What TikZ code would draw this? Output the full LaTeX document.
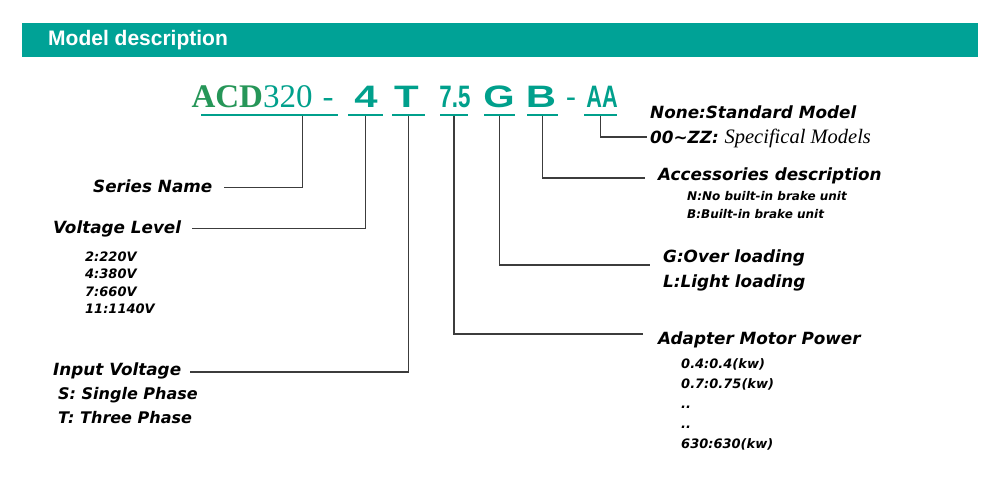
\documentclass[tikz,border=0pt]{standalone}
\usepackage{fontspec}
\setmainfont{Liberation Sans}
\newfontfamily\lblfont{DejaVu Sans}
\newfontfamily\serffont{Liberation Serif}
\usetikzlibrary{calc}

\definecolor{barteal}{RGB}{0,162,150}
\definecolor{codeteal}{RGB}{0,160,140}
\definecolor{acdgreen}{RGB}{38,150,88}
\definecolor{leadgray}{RGB}{60,60,60}

\tikzset{
  code/.style={anchor=base,inner sep=0pt,text=codeteal,font=\bfseries\fontsize{31}{31}\selectfont},
  uline/.style={fill=codeteal,draw=none,inner sep=0pt,minimum height=2pt},
  head/.style={anchor=base west,inner sep=0pt,text height=12pt,text depth=3pt,
    font=\lblfont\bfseries\itshape\fontsize{16.8}{16.8}\selectfont},
  sub/.style={anchor=base west,inner sep=0pt,font=\lblfont\bfseries\itshape\fontsize{13}{13}\selectfont},
  tiny/.style={anchor=base west,inner sep=0pt,font=\lblfont\bfseries\itshape\fontsize{12}{12}\selectfont},
  lead/.style={draw=leadgray,line width=1.3pt},
}

\begin{document}
\begin{tikzpicture}[x=1pt,y=-1pt]
\fill[white] (0,0) rectangle (1000,498);
\useasboundingbox (0,0) rectangle (1000,498);

% header bar
\fill[barteal] (22,23) rectangle (978,57);
\node[anchor=west,inner sep=0pt,text=white,font=\bfseries\fontsize{21}{21}\selectfont] (title) at (48,40) {Model description};

% model code
\node[code,font=\serffont\fontsize{33}{33}\selectfont] (acd) at (252,107) {{\bfseries\color{acdgreen}ACD}320};
\node[code,font=\serffont\fontsize{33}{33}\selectfont] (dasha) at (328,107) {-};
\node[code,xscale=1.35] (volt4) at (366,107) {4};
\node[code,xscale=1.3] (phaseT) at (406.5,107) {T};
\node[code,xscale=0.72] (pow75) at (455,107) {7.5};
\node[code,xscale=1.3] (loadG) at (499,107) {G};
\node[code,xscale=1.35] (brkB) at (541,107) {B};
\node[code,font=\fontsize{31}{31}\selectfont] (dashb) at (571,107) {-};
\node[code,xscale=0.7] (specAA) at (602,107) {AA};

% underlines
\node[uline,minimum width=137pt] (uacd) at (269.5,114.5) {};
\node[uline,minimum width=35pt] (u4) at (365.5,114.5) {};
\node[uline,minimum width=33pt] (uT) at (408.5,114.5) {};
\node[uline,minimum width=28pt] (u75) at (454,114.5) {};
\node[uline,minimum width=31pt] (uG) at (499.5,114.5) {};
\node[uline,minimum width=31pt] (uB) at (542.5,114.5) {};
\node[uline,minimum width=33pt] (uAA) at (600.5,114.5) {};

% left side
\node[head] (series) at (93,192) {Series Name};
\node[head] (volt) at (53,233) {Voltage Level};
\node[sub] (v2) at (85,261) {2:220V};
\node[sub] (v4) at (85,278) {4:380V};
\node[sub] (v7) at (85,296) {7:660V};
\node[sub] (v11) at (85,313) {11:1140V};
\node[head] (input) at (53,375) {Input Voltage};
\node[head,font=\lblfont\bfseries\itshape\fontsize{16}{16}\selectfont] (single) at (58,399) {S: Single Phase};
\node[head,font=\lblfont\bfseries\itshape\fontsize{16}{16}\selectfont] (three) at (58,423) {T: Three Phase};

% right side
\node[head] (none) at (650,118) {None:Standard Model};
\node[head] (spec) at (650,143) {00\textasciitilde ZZ: {\serffont\mdseries\fontsize{20.5}{20.5}\selectfont Specifical Models}};
\node[head] (acc) at (658,180) {Accessories description};
\node[tiny] (nbrk) at (687,200) {N:No built-in brake unit};
\node[tiny] (bbrk) at (687,218) {B:Built-in brake unit};
\node[head] (over) at (663,262) {G:Over loading};
\node[head] (light) at (663,287) {L:Light loading};
\node[head] (power) at (658,344) {Adapter Motor Power};
\node[sub] (p1) at (681,368) {0.4:0.4(kw)};
\node[sub] (p2) at (681,388) {0.7:0.75(kw)};
\node[sub] (p3) at (681,408) {..};
\node[sub] (p4) at (681,428) {..};
\node[sub] (p5) at (681,448) {630:630(kw)};

% leaders
\draw[lead,shorten >=12pt] ($(uacd.south west)!0.74!(uacd.south east)$) |- (series.east);
\draw[lead,shorten >=11pt] (u4.south) |- (volt.east);
\draw[lead,shorten >=9pt] (uT.south) |- ([yshift=-1.5pt]input.east);
\draw[lead,shorten >=15pt] (u75.south) |- ([yshift=5.5pt]power.west);
\draw[lead,shorten >=13pt] (uG.south) |- ([yshift=-7.5pt]over.west);
\draw[lead,shorten >=13pt] (uB.south) |- ([yshift=-2.5pt]acc.west);
\draw[lead,shorten >=3pt] (uAA.south) |- ([yshift=1.5pt]spec.west);

\end{tikzpicture}
\end{document}
